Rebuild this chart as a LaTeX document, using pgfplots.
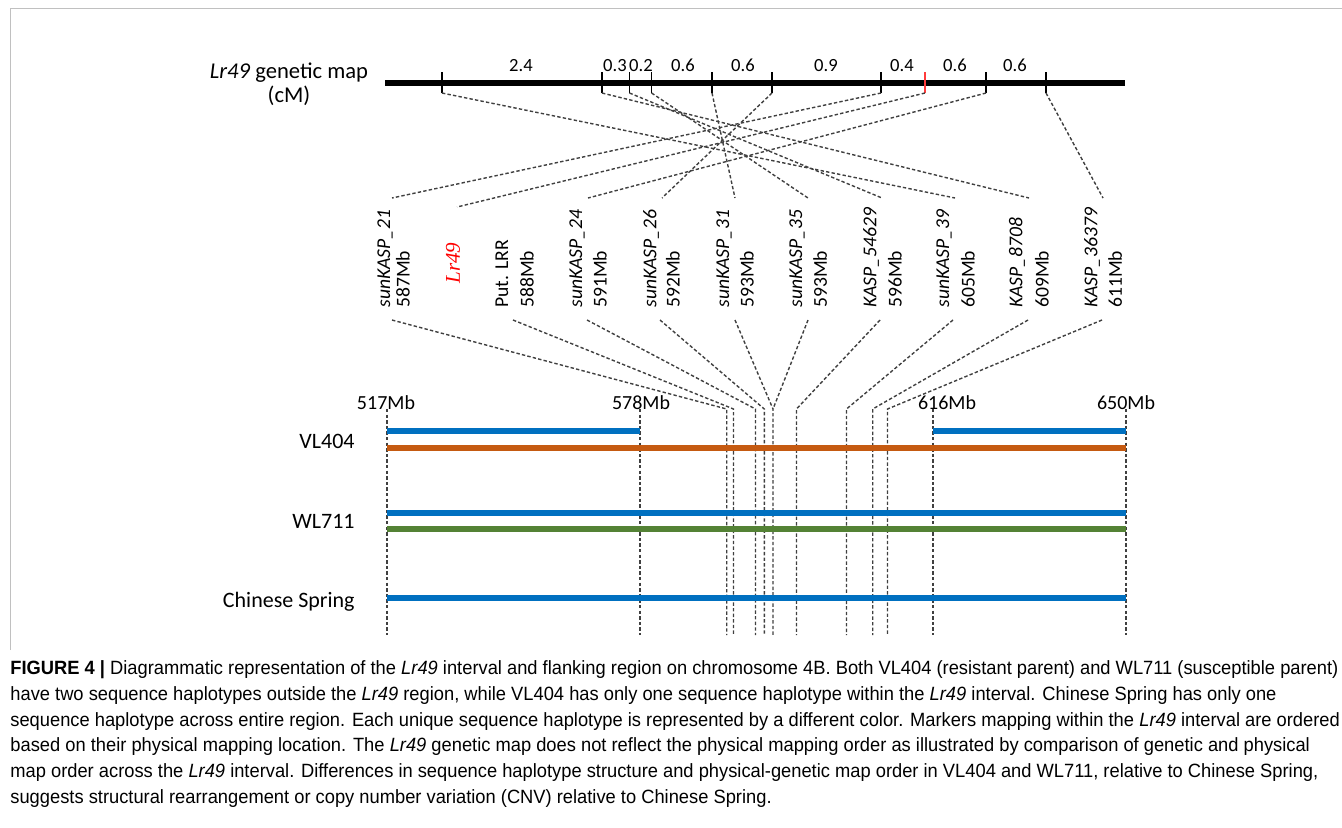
\documentclass[border=0pt]{standalone}
\usepackage{pgfplots}
\pgfplotsset{compat=1.18}
\usepackage{graphicx}
\usepackage{fontspec}
\setmainfont{Carlito}
\newfontfamily\capfont{Liberation Sans}
\newfontfamily\timesf{Liberation Serif}
\definecolor{dgray}{HTML}{404040}
\definecolor{hblue}{HTML}{0070C0}
\definecolor{horange}{HTML}{C55A11}
\definecolor{hgreen}{HTML}{548235}
\definecolor{framec}{HTML}{C0C0C0}
\definecolor{tickred}{HTML}{FF3B3B}
\newcommand\fsM{\fontsize{9.8pt}{11pt}\selectfont}
\newcommand\fsT{\fontsize{11.3pt}{13pt}\selectfont}
\newcommand\fsN{\fontsize{9.3pt}{10pt}\selectfont}
\newcommand\fsP{\fontsize{10pt}{11pt}\selectfont}
\newcommand\fsR{\fontsize{11pt}{13pt}\selectfont}
\newcommand\fsC{\fontsize{9.6pt}{11pt}\selectfont}
\newlength\capw
\newcommand\capA{\textbf{FIGURE 4 |} Diagrammatic representation of the \textit{Lr49} interval and flanking region on chromosome 4B. Both VL404 (resistant parent) and WL711 (susceptible parent)}
\newcommand\capline[2]{\node[anchor=base west, inner sep=0pt] at (axis cs:10,#1) {\scalebox{\capr}[1]{\capfont\fsC #2}};}
\begin{document}
\settowidth{\capw}{\capfont\fsC\capA}%
\pgfmathsetmacro\capr{664/\capw}%
\begin{tikzpicture}
\begin{axis}[name=ax, scale only axis, width=671pt, height=413.5pt,
  xmin=0, xmax=1342, ymin=0, ymax=827, y dir=reverse, hide axis, clip=false,
  gl/.style={color=dgray, line width=0.7pt, dash pattern=on 1.7pt off 1.1pt},
  tk/.style={color=black, line width=0.75pt},
  hb/.style={line width=3pt}]
% frame
\addplot[framec, line width=0.5pt] coordinates {(10,650) (10,8) (1342,8)};
% genetic map bar and ticks
\addplot[black, line width=3.4pt] coordinates {(385,83) (1125,83)};
\addplot[tk] coordinates {(442,72) (442,93)};
\addplot[tk] coordinates {(602,72) (602,93)};
\addplot[tk] coordinates {(629.5,72) (629.5,93)};
\addplot[tk] coordinates {(651.6,72) (651.6,93)};
\addplot[tk] coordinates {(712,72) (712,93)};
\addplot[tk] coordinates {(772,72) (772,93)};
\addplot[tk] coordinates {(881,72) (881,93)};
\addplot[tk, color=tickred] coordinates {(925,72) (925,93)};
\addplot[tk] coordinates {(986,72) (986,93)};
\addplot[tk] coordinates {(1046,72) (1046,93)};
% genetic-to-marker lines
\addplot[gl] coordinates {(442,93) (955,198)};
\addplot[gl] coordinates {(602,93) (1029,198)};
\addplot[gl] coordinates {(629.5,93) (882,198)};
\addplot[gl] coordinates {(651.6,93) (808,198)};
\addplot[gl] coordinates {(712,93) (735,198)};
\addplot[gl] coordinates {(772,93) (662,198)};
\addplot[gl] coordinates {(881,93) (392,198)};
\addplot[gl] coordinates {(925,93) (457,207)};
\addplot[gl] coordinates {(986,93) (588,198)};
\addplot[gl] coordinates {(1046,93) (1103,198)};
% marker-to-physical lines
\addplot[gl] coordinates {(392,320) (726.7,409) (726.7,635)};
\addplot[gl] coordinates {(513,320) (733.5,409) (733.5,635)};
\addplot[gl] coordinates {(587,320) (755.5,409) (755.5,635)};
\addplot[gl] coordinates {(660,320) (764.3,409) (764.3,635)};
\addplot[gl] coordinates {(735,320) (773,409) (773,635)};
\addplot[gl] coordinates {(808,320) (773,409)};
\addplot[gl] coordinates {(880,320) (796.5,409) (796.5,635)};
\addplot[gl] coordinates {(953,320) (846.5,409) (846.5,635)};
\addplot[gl] coordinates {(1028,320) (872.7,409) (872.7,635)};
\addplot[gl] coordinates {(1102,320) (887.5,409) (887.5,635)};
\addplot[gl] coordinates {(387,409) (387,635)};
\addplot[gl] coordinates {(640,409) (640,635)};
\addplot[gl] coordinates {(933,409) (933,635)};
\addplot[gl] coordinates {(1126,409) (1126,635)};
% haplotype bars
\addplot[hb, hblue] coordinates {(387,431) (640,431)};
\addplot[hb, hblue] coordinates {(933,431) (1126,431)};
\addplot[hb, horange] coordinates {(387,448) (1126,448)};
\addplot[hb, hblue] coordinates {(387,513) (1126,513)};
\addplot[hb, hgreen] coordinates {(387,529) (1126,529)};
\addplot[hb, hblue] coordinates {(387,598) (1126,598)};
% texts: genetic map
\node[anchor=base, inner sep=0pt] at (axis cs:289,78) {\fsT\textit{Lr49} genetic map};
\node[anchor=base, inner sep=0pt] at (axis cs:289,102) {\fsT (cM)};
\node[anchor=base, inner sep=0pt] at (axis cs:521,71) {\fsN 2.4};
\node[anchor=base, inner sep=0pt] at (axis cs:615,71) {\fsN 0.3};
\node[anchor=base, inner sep=0pt] at (axis cs:641,71) {\fsN 0.2};
\node[anchor=base, inner sep=0pt] at (axis cs:683,71) {\fsN 0.6};
\node[anchor=base, inner sep=0pt] at (axis cs:743,71) {\fsN 0.6};
\node[anchor=base, inner sep=0pt] at (axis cs:826,71) {\fsN 0.9};
\node[anchor=base, inner sep=0pt] at (axis cs:902,71) {\fsN 0.4};
\node[anchor=base, inner sep=0pt] at (axis cs:955,71) {\fsN 0.6};
\node[anchor=base, inner sep=0pt] at (axis cs:1015,71) {\fsN 0.6};
% marker labels
\node[rotate=90, anchor=west, inner sep=0pt] at (axis cs:385,308) {\fsM\itshape sunKASP\_21};
\node[rotate=90, anchor=west, inner sep=0pt] at (axis cs:403,308) {\fsM 587Mb};
\node[rotate=90, anchor=center, inner sep=0pt, text=red] at (axis cs:453,263) {\timesf\fontsize{10.5pt}{12pt}\selectfont\itshape Lr49};
\node[rotate=90, anchor=west, inner sep=0pt] at (axis cs:502,308) {\fsM Put. LRR};
\node[rotate=90, anchor=west, inner sep=0pt] at (axis cs:527,308) {\fsM 588Mb};
\node[rotate=90, anchor=west, inner sep=0pt] at (axis cs:577,308) {\fsM\itshape sunKASP\_24};
\node[rotate=90, anchor=west, inner sep=0pt] at (axis cs:600,308) {\fsM 591Mb};
\node[rotate=90, anchor=west, inner sep=0pt] at (axis cs:651,308) {\fsM\itshape sunKASP\_26};
\node[rotate=90, anchor=west, inner sep=0pt] at (axis cs:673,308) {\fsM 592Mb};
\node[rotate=90, anchor=west, inner sep=0pt] at (axis cs:724,308) {\fsM\itshape sunKASP\_31};
\node[rotate=90, anchor=west, inner sep=0pt] at (axis cs:747,308) {\fsM 593Mb};
\node[rotate=90, anchor=west, inner sep=0pt] at (axis cs:797,308) {\fsM\itshape sunKASP\_35};
\node[rotate=90, anchor=west, inner sep=0pt] at (axis cs:820,308) {\fsM 593Mb};
\node[rotate=90, anchor=west, inner sep=0pt] at (axis cs:871,308) {\fsM\itshape KASP\_54629};
\node[rotate=90, anchor=west, inner sep=0pt] at (axis cs:895,308) {\fsM 596Mb};
\node[rotate=90, anchor=west, inner sep=0pt] at (axis cs:944,308) {\fsM\itshape sunKASP\_39};
\node[rotate=90, anchor=west, inner sep=0pt] at (axis cs:968,308) {\fsM 605Mb};
\node[rotate=90, anchor=west, inner sep=0pt] at (axis cs:1017,308) {\fsM\itshape KASP\_8708};
\node[rotate=90, anchor=west, inner sep=0pt] at (axis cs:1042,308) {\fsM 609Mb};
\node[rotate=90, anchor=west, inner sep=0pt] at (axis cs:1092,308) {\fsM\itshape KASP\_36379};
\node[rotate=90, anchor=west, inner sep=0pt] at (axis cs:1115,308) {\fsM 611Mb};
% physical labels
\node[anchor=base, inner sep=0pt] at (axis cs:386,409) {\fsP 517Mb};
\node[anchor=base, inner sep=0pt] at (axis cs:641,409) {\fsP 578Mb};
\node[anchor=base, inner sep=0pt] at (axis cs:947,409) {\fsP 616Mb};
\node[anchor=base, inner sep=0pt] at (axis cs:1126,409) {\fsP 650Mb};
% row labels
\node[anchor=base east, inner sep=0pt] at (axis cs:355,448) {\fsR VL404};
\node[anchor=base east, inner sep=0pt] at (axis cs:355,528) {\fsR WL711};
\node[anchor=base east, inner sep=0pt] at (axis cs:355,607) {\fsR Chinese Spring};
% caption
\capline{674.5}{\capA}
\capline{700.3}{have two sequence haplotypes outside the \textit{Lr49} region, while VL404 has only one sequence haplotype within the \textit{Lr49} interval. Chinese Spring has only one}
\capline{726.1}{sequence haplotype across entire region. Each unique sequence haplotype is represented by a different color. Markers mapping within the \textit{Lr49} interval are ordered}
\capline{751.9}{based on their physical mapping location. The \textit{Lr49} genetic map does not reflect the physical mapping order as illustrated by comparison of genetic and physical}
\capline{777.7}{map order across the \textit{Lr49} interval. Differences in sequence haplotype structure and physical-genetic map order in VL404 and WL711, relative to Chinese Spring,}
\capline{803.5}{suggests structural rearrangement or copy number variation (CNV) relative to Chinese Spring.}
\end{axis}
\pgfresetboundingbox
\useasboundingbox (ax.south west) rectangle (ax.north east);
\end{tikzpicture}
\end{document}
